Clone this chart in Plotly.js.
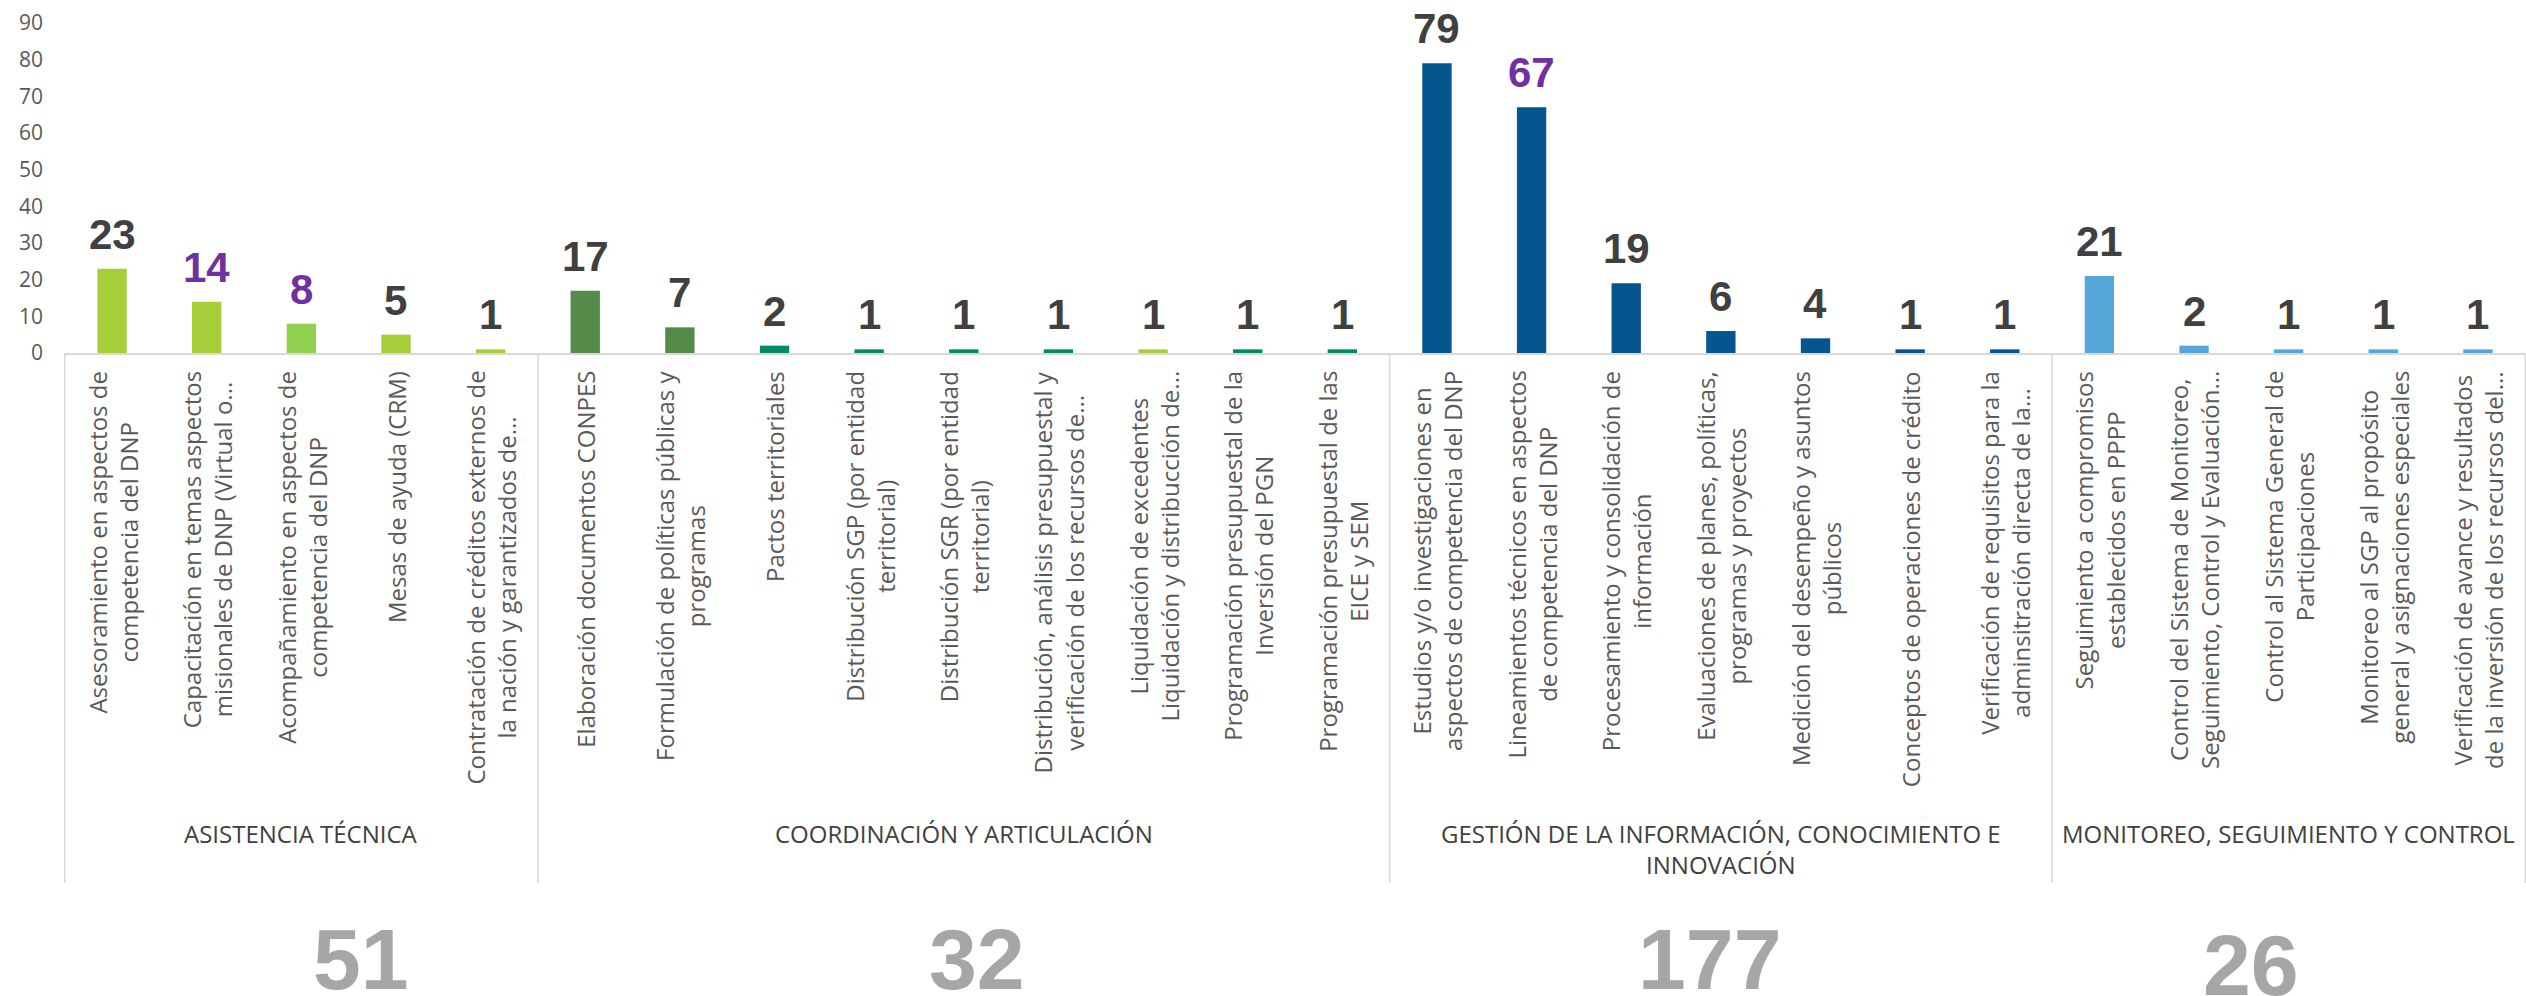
<!DOCTYPE html>
<html>
<head>
<meta charset="utf-8">
<script src="https://cdn.plot.ly/plotly-3.0.1.min.js"></script>
<style>
  html, body { margin: 0; padding: 0; background: #fff; }
  #chart { width: 2526px; height: 996px; }
</style>
</head>
<body>
<div id="chart"></div>
<script>
// categories (tick labels, as they are wrapped/cut in the original)
const categories = [
  "Asesoramiento en aspectos de<br>competencia del DNP",
  "Capacitación en temas aspectos<br>misionales de DNP (Virtual o...",
  "Acompañamiento en aspectos de<br>competencia del DNP",
  "Mesas de ayuda (CRM)",
  "Contratación de créditos externos de<br>la nación y garantizados de...",
  "Elaboración documentos CONPES",
  "Formulación de políticas públicas y<br>programas",
  "Pactos territoriales",
  "Distribución SGP (por entidad<br>territorial)",
  "Distribución SGR (por entidad<br>territorial)",
  "Distribución, análisis presupuestal y<br>verificación de los recursos de...",
  "Liquidación de excedentes<br>Liquidación y distribucción de...",
  "Programación presupuestal de la<br>Inversión del PGN",
  "Programación presupuestal de las<br>EICE y SEM",
  "Estudios y/o investigaciones en<br>aspectos de competencia del DNP",
  "Lineamientos técnicos en aspectos<br>de competencia del DNP",
  "Procesamiento y consolidación de<br>información",
  "Evaluaciones de planes, políticas,<br>programas y proyectos",
  "Medición del desempeño y asuntos<br>públicos",
  "Conceptos de operaciones de crédito",
  "Verificación de requisitos para la<br>adminsitración directa de la...",
  "Seguimiento a compromisos<br>establecidos en PPPP",
  "Control del Sistema de Monitoreo,<br>Seguimiento, Control y Evaluación...",
  "Control al Sistema General de<br>Participaciones",
  "Monitoreo al SGP al propósito<br>general y asignaciones especiales",
  "Verificación de avance y resultados<br>de la inversión de los recursos del..."
];
const values = [23, 14, 8, 5, 1, 17, 7, 2, 1, 1, 1, 1, 1, 1, 79, 67, 19, 6, 4, 1, 1, 21, 2, 1, 1, 1];

const groups = [
  "ASISTENCIA TÉCNICA",
  "COORDINACIÓN Y ARTICULACIÓN",
  "GESTIÓN DE LA INFORMACIÓN, CONOCIMIENTO E<br>INNOVACIÓN",
  "MONITOREO, SEGUIMIENTO Y CONTROL"
];
const groupSizes = [5, 9, 7, 5];

// styles
const LIME = "#A6CE39", LIGHT = "#92D050", DKGREEN = "#548B4B", TEAL = "#008A65",
      BLUE = "#05558F", SKY = "#55A6D9", PURPLE = "#7030A0", DARK = "#404040", GREY = "#595959";
const barColors = [LIME, LIME, LIGHT, LIME, LIME,
  DKGREEN, DKGREEN, TEAL, TEAL, TEAL, TEAL, LIME, TEAL, TEAL,
  BLUE, BLUE, BLUE, BLUE, BLUE, BLUE, BLUE,
  SKY, SKY, SKY, SKY, SKY];
const purpleLabels = [1, 2, 15];
// where the big totals sit (category units / pixel shift)
const totalPos = [2.63, 9.14, 16.88, 22.6];
const totalShift = [-606, -606, -606, -612];

var annotations = [];
var shapes = [];

// value labels over bars + rotated category labels
for (var i = 0; i < categories.length; i++) {
  annotations.push({
    x: i, xref: "x", y: values[i], yref: "y",
    text: String(values[i]), showarrow: false,
    yanchor: "bottom", yshift: 9,
    font: { family: "Liberation Sans, Arial, sans-serif", size: 42, weight: "bold",
            color: purpleLabels.indexOf(i) >= 0 ? PURPLE : DARK }
  });
  annotations.push({
    x: i, xref: "x", y: 0, yref: "paper",
    text: categories[i], showarrow: false, textangle: -90,
    xanchor: "center", yanchor: "top", yshift: -16, align: "center",
    font: { family: "Open Sans, sans-serif", size: 24, color: GREY }
  });
}

// group labels, dividers and totals
var start = 0;
for (var g = 0; g < groups.length; g++) {
  var end = start + groupSizes[g];
  annotations.push({
    x: start + (groupSizes[g] - 1) / 2, xref: "x", y: 0, yref: "paper",
    text: groups[g], showarrow: false, yanchor: "top", yshift: -462, align: "center",
    font: { family: "Open Sans, sans-serif", size: 24, color: DARK }
  });
  var total = values.slice(start, end).reduce(function (a, b) { return a + b; }, 0);
  annotations.push({
    x: totalPos[g], xref: "x", y: 0, yref: "paper",
    text: String(total), showarrow: false, yanchor: "middle", yshift: totalShift[g],
    font: { family: "Liberation Sans, Arial, sans-serif", size: 86, weight: "bold", color: "#A6A6A6" }
  });
  shapes.push({
    type: "line", xref: "x", yref: "paper", x0: start - 0.5, x1: start - 0.5,
    y0: 0, y1: -530 / 330, line: { color: "#D9D9D9", width: 1.5 }
  });
  start = end;
}
shapes.push({
  type: "line", xref: "x", yref: "paper", x0: start - 0.5, x1: start - 0.5,
  y0: 0, y1: -530 / 330, line: { color: "#D9D9D9", width: 1.5 }
});

var data = [{
  type: "bar",
  x: categories,
  y: values,
  marker: { color: barColors },
  hoverinfo: "x+y"
}];

var layout = {
  width: 2526, height: 996,
  margin: { l: 64, r: 0, t: 23, b: 643 },
  paper_bgcolor: "#fff", plot_bgcolor: "#fff",
  bargap: 0.69,
  showlegend: false,
  xaxis: {
    type: "category", showticklabels: false, ticks: "",
    showline: true, linecolor: "#D9D9D9", linewidth: 2,
    showgrid: false, zeroline: false, fixedrange: true
  },
  yaxis: {
    range: [0, 90], dtick: 10, showgrid: false, zeroline: false, showline: false,
    ticks: "", ticklabelstandoff: 20,
    tickfont: { family: "Open Sans, sans-serif", size: 21, color: GREY },
    fixedrange: true
  },
  annotations: annotations,
  shapes: shapes
};

Plotly.newPlot("chart", data, layout, { displayModeBar: false, staticPlot: true });
</script>
</body>
</html>
